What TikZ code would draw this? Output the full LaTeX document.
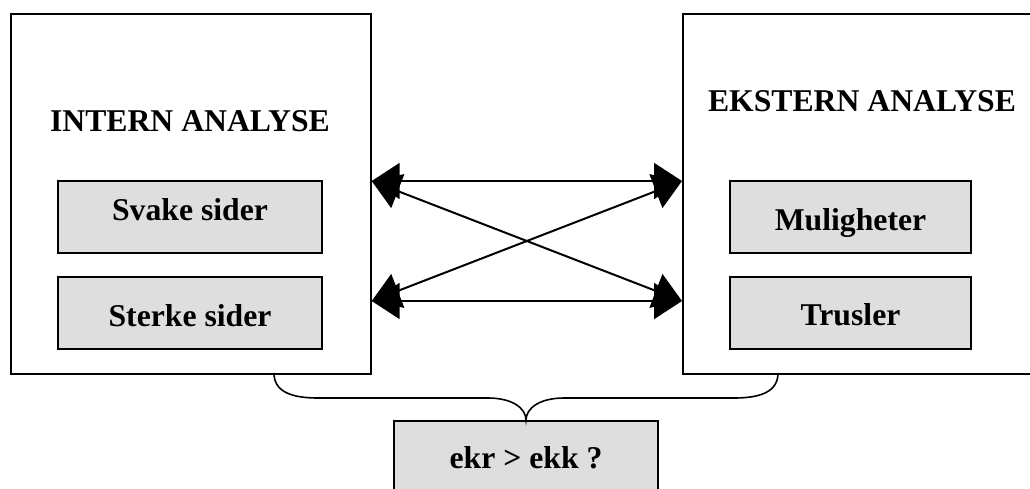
\documentclass[tikz,border=0pt]{standalone}
\usepackage{fontspec}
\setmainfont{Liberation Serif}
\usetikzlibrary{arrows.meta}
\begin{document}
\begin{tikzpicture}[x=1pt,y=-1pt,
  bigbox/.style={draw=black,line width=1.7pt,fill=white,inner sep=0pt,anchor=north west},
  graybox/.style={draw=black,line width=1.7pt,fill=black!13,inner sep=0pt,
    font=\fontsize{31.7}{36}\selectfont\bfseries,text height=24pt,text depth=0pt},
  title/.style={font=\fontsize{31.7}{36}\selectfont\bfseries,inner sep=0pt,anchor=base},
  biarrow/.style={line width=2pt,{Triangle[length=28pt,width=36pt]}-{Triangle[length=28pt,width=36pt]}},
  bracestyle/.style={line width=1.6pt}]
\useasboundingbox (0,0) rectangle (1030,488);
% big boxes
\node[bigbox,minimum width=360pt,minimum height=360pt] (L) at (10,13) {};
\node[bigbox,minimum width=380pt,minimum height=360pt] (R) at (682,13) {};
% titles
\node[title] (LT) at (190,131.5) {INTERN ANALYSE};
\node[title] (RT) at (862,111.5) {EKSTERN ANALYSE};
% gray boxes
\node[graybox,minimum width=264pt,minimum height=72pt,text height=6pt] (svake) at (190,217) {Svake sider};
\node[graybox,minimum width=264pt,minimum height=72pt,text height=27pt] (sterke) at (190,313) {Sterke sider};
\node[graybox,minimum width=241pt,minimum height=72pt,text height=26pt] (mul) at (850.5,217) {Muligheter};
\node[graybox,minimum width=241pt,minimum height=72pt] (tru) at (850.5,313) {Trusler};
\node[graybox,minimum width=264pt,minimum height=80pt,text height=14pt] (ekr) at (526,461) {ekr > ekk ?};
% arrow end points on box edges
\coordinate (lt) at (L.north east |- 0,181);
\coordinate (lb) at (L.north east |- 0,301);
\coordinate (rt) at (R.north west |- 0,181);
\coordinate (rb) at (R.north west |- 0,301);
\draw[biarrow] (lt) -- (rt);
\draw[biarrow] (lb) -- (rb);
\draw[biarrow] (lt) -- (rb);
\draw[biarrow] (lb) -- (rt);
% brace
\coordinate (bl) at (274,373);
\coordinate (br) at (778,373);
\coordinate (btip) at (ekr.north);
\draw[bracestyle] (bl) .. controls (274,392) and (292,398) .. (318,398)
  -- (488,398) .. controls (512,398) and (526,408) .. (btip)
  .. controls (526,408) and (540,398) .. (564,398)
  -- (734,398) .. controls (760,398) and (778,392) .. (br);
\end{tikzpicture}
\end{document}
